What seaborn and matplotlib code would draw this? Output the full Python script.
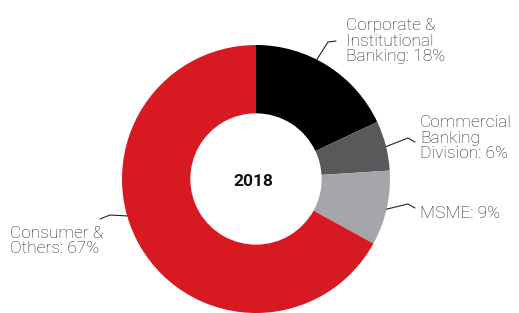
import matplotlib
matplotlib.use("Agg")
import matplotlib.pyplot as plt
import seaborn as sns
import numpy as np

# segment shares for 2018
segments = ["Corporate &\nInstitutional\nBanking", "Commercial\nBanking\nDivision", "MSME", "Consumer &\nOthers"]
shares = [18, 6, 9, 67]
year = "2018"

colors = ["#000000", "#58595B", "#A4A6A9", "#D71A21"]

# label layout in pixels (leader start angle clockwise from top, elbow, end, text anchor)
label_angle = [27, 76, 103, 254]
elbows = [(328, 42), (408, 138), (408, 204), (110, 215)]
ends = [(336, 41), (415, 142), (415, 208), (100, 219)]
text_pos = [(346, 41), (420, 138), (420, 214), (10, 241)]

W, H = 519, 313
cx, cy, R = 256, 179, 134

sns.set_theme(style="white")
plt.rcParams["font.family"] = ["Roboto", "DejaVu Sans"]

fig = plt.figure(figsize=(W / 100, H / 100), dpi=100)
ax = fig.add_axes([0, 0, 1, 1])

ax.pie(shares, colors=colors, startangle=90, counterclock=False,
       center=(cx, H - cy), radius=R,
       wedgeprops=dict(width=R * 0.51, linewidth=0))

# pie resets the limits, so put the pixel frame back afterwards
ax.set_xlim(0, W)
ax.set_ylim(0, H)
ax.set_aspect("equal")
ax.axis("off")

ax.text(cx - 3, H - cy - 3, year, ha="center", va="center",
        fontsize=12.5, fontweight="bold", color="#111111")

for name, val, ang, el, en, tp in zip(segments, shares, label_angle, elbows, ends, text_pos):
    a = np.deg2rad(ang)
    sx = cx + R * np.sin(a)
    sy = cy - R * np.cos(a)
    ax.plot([sx, el[0], en[0]], [H - sy, H - el[1], H - en[1]],
            color="#222222", linewidth=0.8)
    ax.text(tp[0], H - tp[1], f"{name}: {val}%", ha="left", va="center",
            fontsize=12.5, fontweight="light", color="#222222", linespacing=1.05)

fig.savefig("out.png", dpi=100)
